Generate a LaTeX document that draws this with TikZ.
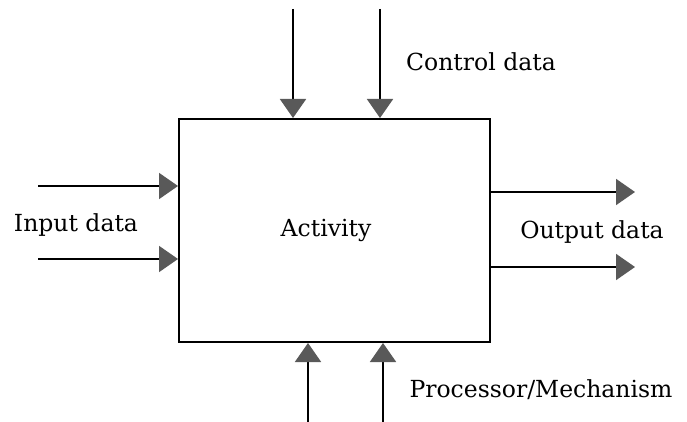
\documentclass[tikz,border=0pt]{standalone}
\usepackage{fontspec}
\setmainfont{DejaVu Serif}
\usetikzlibrary{arrows.meta}
\begin{document}
\begin{tikzpicture}[x=1pt,y=-1pt,
  flow/.style={line width=1.8pt,draw=black,
    -{Triangle[length=19pt,width=26pt,fill=black!65,color=black!65]}},
  lbl/.style={font=\fontsize{23.5}{26}\selectfont,inner sep=0pt}]
\useasboundingbox[fill=white] (0,0) rectangle (687,422);
% activity box
\node[draw,line width=2pt,minimum width=311pt,minimum height=223pt,inner sep=0pt] (box) at (334.5,230.5) {};
\node[lbl] (act) at (326,230) {Activity};
% free ends of the flows
\coordinate (t1) at (293,9);
\coordinate (t2) at (380,9);
\coordinate (l1) at (38,186);
\coordinate (l2) at (38,259);
\coordinate (b1) at (308,422);
\coordinate (b2) at (383,422);
\coordinate (r1) at (635,192);
\coordinate (r2) at (635,267);
% controls
\draw[flow] (t1) -- (t1 |- box.north);
\draw[flow] (t2) -- (t2 |- box.north);
% inputs
\draw[flow] (l1) -- (l1 -| box.west);
\draw[flow] (l2) -- (l2 -| box.west);
% mechanisms
\draw[flow] (b1) -- (b1 |- box.south);
\draw[flow] (b2) -- (b2 |- box.south);
% outputs
\draw[flow] (r1 -| box.east) -- (r1);
\draw[flow] (r2 -| box.east) -- (r2);
% labels
\node[lbl] (ctl) at (481,62) {Control data};
\node[lbl] (inp) at (76,225) {Input data};
\node[lbl] (out) at (592,232) {Output data};
\node[lbl] (mec) at (541,390) {Processor/Mechanism};
\end{tikzpicture}
\end{document}
